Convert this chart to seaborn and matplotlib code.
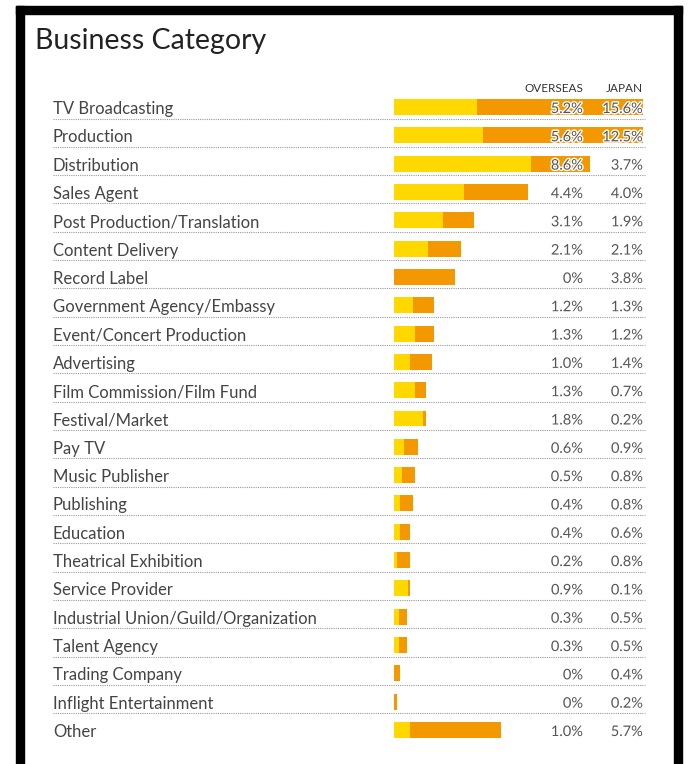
import matplotlib
matplotlib.use("Agg")
import matplotlib.pyplot as plt
import matplotlib.patheffects as pe
from matplotlib.patches import Rectangle
from matplotlib.transforms import blended_transform_factory
import pandas as pd
import seaborn as sns

# data
categories = [
    "TV Broadcasting", "Production", "Distribution", "Sales Agent",
    "Post Production/Translation", "Content Delivery", "Record Label",
    "Government Agency/Embassy", "Event/Concert Production", "Advertising",
    "Film Commission/Film Fund", "Festival/Market", "Pay TV", "Music Publisher",
    "Publishing", "Education", "Theatrical Exhibition", "Service Provider",
    "Industrial Union/Guild/Organization", "Talent Agency", "Trading Company",
    "Inflight Entertainment", "Other",
]
overseas = [5.2, 5.6, 8.6, 4.4, 3.1, 2.1, 0, 1.2, 1.3, 1.0, 1.3, 1.8, 0.6, 0.5,
            0.4, 0.4, 0.2, 0.9, 0.3, 0.3, 0, 0, 1.0]
japan = [15.6, 12.5, 3.7, 4.0, 1.9, 2.1, 3.8, 1.3, 1.2, 1.4, 0.7, 0.2, 0.9, 0.8,
         0.8, 0.6, 0.8, 0.1, 0.5, 0.5, 0.4, 0.2, 5.7]

YELLOW = "#FFD800"
ORANGE = "#F39800"
GREY = "#555555"

df = pd.DataFrame({"Category": categories, "Overseas": overseas, "Japan": japan})
df["Total"] = df["Overseas"] + df["Japan"]

sns.set_style("white")
plt.rcParams["font.family"] = ["Lato", "DejaVu Sans"]

W, H = 696, 764
fig = plt.figure(figsize=(W / 100, H / 100), dpi=100)

# black frame (left, top, right)
for x0, y0, w, h in [(16, 6, 8, 758), (16, 6, 666, 8), (674, 6, 8, 758)]:
    fig.patches.append(Rectangle((x0 / W, 1 - (y0 + h) / H), w / W, h / H,
                                 transform=fig.transFigure, color="black", zorder=5))

fig.text(35 / W, 1 - 41 / H, "Business Category", fontsize=20.5, color="#222222",
         va="center", ha="left")

# bar axes: rows centred from y=107 to y=730
n = len(categories)
step = (730 - 107) / (n - 1)
top = 107 - step / 2
bottom = 730 + step / 2
ax = fig.add_axes([394 / W, 1 - bottom / H, (643 - 394) / W, (bottom - top) / H])

sns.barplot(data=df, x="Total", y="Category", color=ORANGE, orient="h",
            width=0.565, errorbar=None, ax=ax, saturation=1, linewidth=0)
sns.barplot(data=df, x="Overseas", y="Category", color=YELLOW, orient="h",
            width=0.565, errorbar=None, ax=ax, saturation=1, linewidth=0)

ax.set_xlim(0, 15.6)
ax.set_ylim(n - 0.5, -0.5)
ax.axis("off")

trans = blended_transform_factory(fig.transFigure, ax.transData)
outline = [pe.withStroke(linewidth=2, foreground="white")]
dy = 2 / step  # nudge text down a little

for i, (cat, o, j) in enumerate(zip(categories, overseas, japan)):
    fig_txt = dict(transform=trans, va="center", clip_on=False)
    ax.text(53 / W, i + dy, cat, ha="left", fontsize=12, color="#444444", **fig_txt)
    o_lbl = "0%" if o == 0 else f"{o:.1f}%"
    j_lbl = "0%" if j == 0 else f"{j:.1f}%"
    ax.text(583 / W, i + dy, o_lbl, ha="right", fontsize=10.5, color=GREY,
            path_effects=outline, **fig_txt)
    ax.text(643 / W, i + dy, j_lbl, ha="right", fontsize=10.5, color=GREY,
            path_effects=outline, **fig_txt)
    if i < n - 1:
        ax.plot([53 / W, 645 / W], [i + 11.5 / step] * 2, transform=trans,
                color="#9a9a9a", linestyle=(0, (1, 1)), linewidth=0.8, clip_on=False)

fig.text(583 / W, 1 - 88 / H, "OVERSEAS", ha="right", va="center", fontsize=8.5,
         color="#333333")
fig.text(643 / W, 1 - 88 / H, "JAPAN", ha="right", va="center", fontsize=8.5,
         color="#333333")

fig.savefig("out.png", dpi=100)
